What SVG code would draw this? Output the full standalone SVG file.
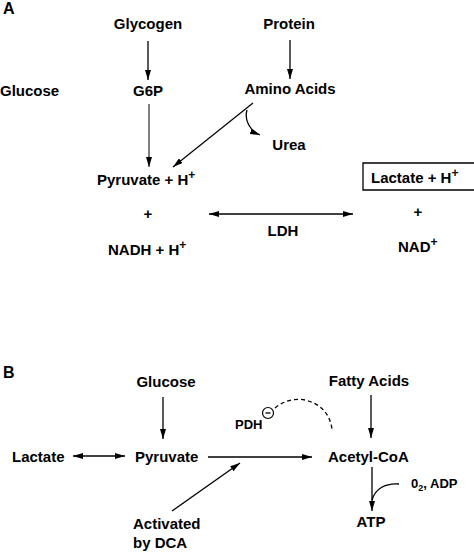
<svg xmlns="http://www.w3.org/2000/svg" width="474" height="553" viewBox="0 0 474 553">
<defs>
<marker id="ah" viewBox="0 0 10 6" refX="10" refY="3" markerWidth="10" markerHeight="6" markerUnits="userSpaceOnUse" orient="auto-start-reverse">
<path d="M0,0 L10,3 L0,6 z" fill="#000"/>
</marker>
</defs>
<style>
text{font-family:"Liberation Sans",Arial,sans-serif;font-weight:bold;font-size:15px;fill:#000}
.s{font-size:13px}
.c{text-anchor:middle}
.sup{font-size:12px}
.ln{stroke:#000;stroke-width:1.3;fill:none}
.thin{stroke:#000;stroke-width:1;fill:none}
</style>
<rect width="474" height="553" fill="#fff"/>
<g id="labelA"><text x="3" y="14" style="font-size:16px">A</text></g>
<g id="glycogen"><text class="c" x="148" y="29">Glycogen</text></g>
<g id="protein"><text class="c" x="289" y="29">Protein</text></g>
<g id="glucoseA"><text x="0" y="96">Glucose</text></g>
<g id="g6p"><text class="c" x="148" y="96">G6P</text></g>
<g id="aminoacids"><text class="c" x="290" y="94">Amino Acids</text></g>
<g id="urea"><text class="c" x="289" y="150">Urea</text></g>
<g id="pyruvateA"><text x="97" y="185">Pyruvate + H<tspan class="sup" dy="-6">+</tspan></text></g>
<g id="lactateA">
<path d="M476,163 H363 V190 H476" class="ln"/>
<text x="371" y="183">Lactate + H<tspan class="sup" dy="-6">+</tspan></text>
</g>
<g id="plus1"><text class="c" x="148" y="219">+</text></g>
<g id="plus2"><text class="c" x="418" y="217">+</text></g>
<g id="ldh"><text class="c" x="283" y="236">LDH</text></g>
<g id="nadh"><text x="108" y="255">NADH + H<tspan class="sup" dy="-6">+</tspan></text></g>
<g id="nad"><text x="398" y="252">NAD<tspan class="sup" dy="-6">+</tspan></text></g>

<g id="labelB"><text x="3" y="378" style="font-size:16px">B</text></g>
<g id="glucoseB"><text class="c" x="166" y="387">Glucose</text></g>
<g id="fattyacids"><text class="c" x="369" y="386">Fatty Acids</text></g>
<g id="pdh">
<text class="s" x="235" y="429">PDH</text>
<circle cx="268" cy="413" r="5.5" fill="#fff" stroke="#000" stroke-width="1.2"/>
<line x1="265.5" y1="413" x2="270.5" y2="413" stroke="#000" stroke-width="1.3"/>
</g>
<g id="lactateB"><text x="12" y="462">Lactate</text></g>
<g id="pyruvateB"><text x="135" y="462">Pyruvate</text></g>
<g id="acetylcoa"><text x="328" y="462">Acetyl-CoA</text></g>
<g id="o2adp"><text class="s" x="411" y="488">0<tspan font-size="9" dy="3">2</tspan><tspan dy="-3">, ADP</tspan></text></g>
<g id="atp"><text class="c" x="371" y="527">ATP</text></g>
<g id="activated"><text x="133" y="529">Activated</text><text x="133" y="548">by DCA</text></g>

<g id="connectors">
<line class="ln" x1="148" y1="41" x2="148" y2="80" marker-end="url(#ah)"/>
<line class="ln" x1="290" y1="40" x2="290" y2="79" marker-end="url(#ah)"/>
<line class="thin" x1="149" y1="104" x2="149" y2="167" marker-end="url(#ah)"/>
<line class="ln" x1="253" y1="103" x2="173" y2="167" marker-end="url(#ah)"/>
<path class="ln" d="M247,110 C244,120 250,131 260,135" marker-end="url(#ah)"/>
<line class="ln" x1="209" y1="214" x2="353" y2="214" marker-start="url(#ah)" marker-end="url(#ah)"/>

<line class="ln" x1="163" y1="397" x2="163" y2="439" marker-end="url(#ah)"/>
<line class="ln" x1="371" y1="395" x2="371" y2="438" marker-end="url(#ah)"/>
<line class="ln" x1="73" y1="456" x2="125" y2="456" marker-start="url(#ah)" marker-end="url(#ah)"/>
<line class="ln" x1="208" y1="457" x2="312" y2="457" marker-end="url(#ah)"/>
<line class="ln" x1="172" y1="511" x2="240" y2="463" marker-end="url(#ah)"/>
<path class="ln" d="M275,408 C283,401 295,398 305,400 C322,404 330,415 332,429" stroke-dasharray="4,3"/>
<line class="ln" x1="372" y1="467" x2="372" y2="511" marker-end="url(#ah)"/>
<path class="ln" d="M399,484 C385,483 375,489 372,500"/>
</g>
</svg>
